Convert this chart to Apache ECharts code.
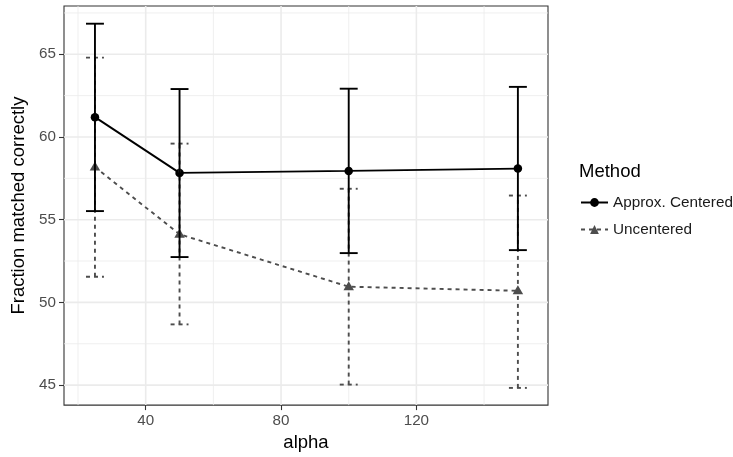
<!DOCTYPE html>
<html>
<head>
<meta charset="utf-8">
<script src="https://cdn.jsdelivr.net/npm/echarts@6/dist/echarts.min.js"></script>
<style>
  html, body { margin: 0; padding: 0; background: #fff; }
  #chart { width: 733px; height: 457px; }
</style>
</head>
<body>
<div id="chart"></div>
<script>
// values
const alpha = [25, 50, 100, 150]
const centeredMean = [61.2, 57.83, 57.95, 58.09]
const centeredLow = [55.52, 52.74, 52.98, 53.16]
const centeredHigh = [66.85, 62.9, 62.92, 63.03]
const uncenteredMean = [58.18, 54.12, 50.95, 50.7]
const uncenteredLow = [51.55, 48.67, 45.03, 44.83]
const uncenteredHigh = [64.8, 59.6, 56.87, 56.46]

const xTicks = [40, 80, 120]
const xMinorGrid = [20, 60, 100, 140]
const yTicks = [45, 50, 55, 60, 65]
const yMinorGrid = [47.5, 52.5, 57.5, 62.5, 67.5]

const FONT = '"Liberation Sans", Arial, sans-serif'
const CAP = 2.65 // half width of error bar caps, in alpha units

const chart = echarts.init(document.getElementById('chart'), null, { renderer: 'canvas' })

function gridLines(vertical) {
  return function (params, api) {
    const cs = params.coordSys
    const major = api.value(1) === 1
    const style = { stroke: '#ebebeb', lineWidth: major ? 1.6 : 0.8 }
    if (vertical) {
      const x = api.coord([api.value(0), 50])[0]
      return { type: 'line', shape: { x1: x, y1: cs.y, x2: x, y2: cs.y + cs.height }, style }
    }
    const y = api.coord([50, api.value(0)])[1]
    return { type: 'line', shape: { x1: cs.x, y1: y, x2: cs.x + cs.width, y2: y }, style }
  }
}

function errorBars(color, dash) {
  return function (params, api) {
    const x = api.value(0)
    const lo = api.coord([x, api.value(1)])
    const hi = api.coord([x, api.value(2)])
    const l1 = api.coord([x - CAP, api.value(1)])[0]
    const r1 = api.coord([x + CAP, api.value(1)])[0]
    const style = { stroke: color, lineWidth: 1.9, lineDash: dash }
    return {
      type: 'group',
      children: [
        { type: 'line', shape: { x1: lo[0], y1: lo[1], x2: hi[0], y2: hi[1] }, style },
        { type: 'line', shape: { x1: l1, y1: hi[1], x2: r1, y2: hi[1] }, style },
        { type: 'line', shape: { x1: l1, y1: lo[1], x2: r1, y2: lo[1] }, style }
      ]
    }
  }
}

chart.setOption({
  animation: false,
  backgroundColor: '#fff',
  grid: {
    left: 64, right: 185, top: 6, bottom: 51,
    show: true, borderColor: '#333', borderWidth: 1.1, backgroundColor: '#fff'
  },
  legend: {
    orient: 'vertical',
    left: 580,
    top: 195,
    padding: 0,
    itemWidth: 27,
    itemHeight: 11,
    itemGap: 12,
    data: ['Approx. Centered', 'Uncentered'],
    textStyle: { fontFamily: FONT, fontSize: 15.3, color: '#1a1a1a' }
  },
  graphic: [{
    type: 'text', left: 579, top: 162,
    style: { text: 'Method', font: '18.5px ' + FONT, fill: '#000' }
  }],
  xAxis: {
    type: 'value',
    min: 15.85, max: 158.9,
    name: 'alpha',
    nameLocation: 'middle',
    nameGap: 27,
    nameTextStyle: { fontFamily: FONT, fontSize: 18.5, color: '#000' },
    axisLine: { show: false },
    splitLine: { show: false },
    axisTick: { show: true, length: 5, lineStyle: { color: '#333', width: 1.1 }, customValues: xTicks },
    axisLabel: { customValues: xTicks, margin: 8, fontFamily: FONT, fontSize: 15.2, color: '#4d4d4d' }
  },
  yAxis: {
    type: 'value',
    min: 43.79, max: 67.92,
    name: 'Fraction matched correctly',
    nameLocation: 'middle',
    nameGap: 28,
    nameTextStyle: { fontFamily: FONT, fontSize: 18.5, color: '#000' },
    axisLine: { show: false },
    splitLine: { show: false },
    axisTick: { show: true, length: 5, lineStyle: { color: '#333', width: 1.1 }, customValues: yTicks },
    axisLabel: { customValues: yTicks, margin: 8, fontFamily: FONT, fontSize: 15.2, color: '#4d4d4d' }
  },
  series: [
    {
      type: 'custom', silent: true, z: 0,
      renderItem: gridLines(true),
      encode: { x: 0 },
      data: xMinorGrid.map(v => [v, 0]).concat(xTicks.map(v => [v, 1]))
    },
    {
      type: 'custom', silent: true, z: 0,
      renderItem: gridLines(false),
      encode: { y: 0 },
      data: yMinorGrid.map(v => [v, 0]).concat(yTicks.map(v => [v, 1]))
    },
    {
      name: 'Approx. Centered',
      type: 'line',
      z: 3,
      data: alpha.map((a, i) => [a, centeredMean[i]]),
      symbol: 'circle',
      symbolSize: 8.5,
      itemStyle: { color: '#000' },
      lineStyle: { color: '#000', width: 1.9 }
    },
    {
      name: 'Uncentered',
      type: 'line',
      z: 2,
      data: alpha.map((a, i) => [a, uncenteredMean[i]]),
      symbol: 'triangle',
      symbolSize: [10.5, 9],
      symbolOffset: [0, -1],
      itemStyle: { color: '#4d4d4d' },
      lineStyle: { color: '#4d4d4d', width: 1.9, type: [4, 4] }
    },
    {
      type: 'custom', silent: true, z: 4,
      renderItem: errorBars('#4d4d4d', [4, 4]),
      data: alpha.map((a, i) => [a, uncenteredLow[i], uncenteredHigh[i]])
    },
    {
      type: 'custom', silent: true, z: 5,
      renderItem: errorBars('#000', null),
      data: alpha.map((a, i) => [a, centeredLow[i], centeredHigh[i]])
    }
  ]
})
</script>
</body>
</html>
